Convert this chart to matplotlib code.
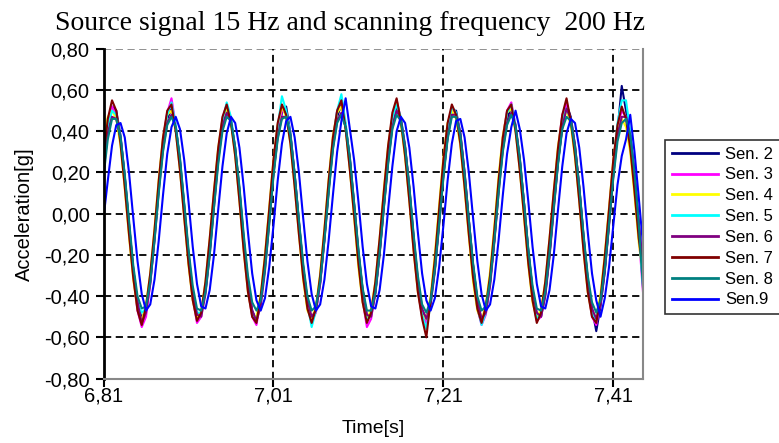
import matplotlib
matplotlib.use("Agg")
import matplotlib.pyplot as plt
import numpy as np

# 200 Hz samples starting at 6.81 s
T_START = 6.81
FS = 200

sen2 = [0.22, 0.40, 0.52, 0.50, 0.38, 0.18, -0.05, -0.27, -0.43, -0.51,
        -0.46, -0.32, -0.11, 0.13, 0.33, 0.46, 0.51, 0.42, 0.25, 0.03,
        -0.20, -0.38, -0.49, -0.48, -0.37, -0.18, 0.05, 0.27, 0.43, 0.50,
        0.45, 0.31, 0.11, -0.13, -0.34, -0.47, -0.52, -0.42, -0.25, -0.03,
        0.20, 0.38, 0.49, 0.52, 0.39, 0.19, -0.04, -0.26, -0.42, -0.53,
        -0.47, -0.33, -0.12, 0.12, 0.33, 0.47, 0.53, 0.43, 0.26, 0.04,
        -0.19, -0.37, -0.50, -0.49, -0.38, -0.19, 0.04, 0.26, 0.43, 0.52,
        0.46, 0.32, 0.12, -0.12, -0.33, -0.47, -0.51, -0.43, -0.27, -0.04,
        0.19, 0.37, 0.50, 0.50, 0.39, 0.20, -0.03, -0.25, -0.42, -0.52,
        -0.48, -0.33, -0.13, 0.12, 0.32, 0.46, 0.52, 0.42, 0.26, 0.05,
        -0.18, -0.37, -0.49, -0.50, -0.39, -0.20, 0.04, 0.25, 0.42, 0.53,
        0.47, 0.33, 0.13, -0.11, -0.32, -0.46, -0.57, -0.45, -0.28, -0.05,
        0.19, 0.40, 0.62, 0.50, 0.38, 0.18, -0.05, -0.27]
sen3 = [0.28, 0.45, 0.52, 0.48, 0.36, 0.15, -0.08, -0.30, -0.47, -0.55,
        -0.50, -0.34, -0.12, 0.14, 0.36, 0.49, 0.56, 0.43, 0.24, 0.01,
        -0.23, -0.41, -0.53, -0.50, -0.36, -0.15, 0.08, 0.30, 0.46, 0.53,
        0.46, 0.30, 0.09, -0.16, -0.37, -0.50, -0.54, -0.42, -0.23, 0.00,
        0.24, 0.41, 0.50, 0.49, 0.37, 0.16, -0.07, -0.29, -0.45, -0.52,
        -0.48, -0.34, -0.12, 0.14, 0.36, 0.50, 0.55, 0.42, 0.23, 0.02,
        -0.22, -0.42, -0.55, -0.51, -0.37, -0.16, 0.08, 0.31, 0.47, 0.55,
        0.46, 0.29, 0.09, -0.16, -0.37, -0.50, -0.53, -0.41, -0.24, -0.01,
        0.23, 0.42, 0.51, 0.48, 0.35, 0.15, -0.08, -0.30, -0.46, -0.54,
        -0.49, -0.34, -0.12, 0.14, 0.37, 0.50, 0.54, 0.43, 0.24, 0.02,
        -0.22, -0.41, -0.52, -0.50, -0.37, -0.16, 0.08, 0.31, 0.48, 0.53,
        0.45, 0.30, 0.09, -0.15, -0.36, -0.50, -0.54, -0.43, -0.24, 0.01,
        0.24, 0.42, 0.50, 0.47, 0.35, 0.16, -0.10, -0.38]
sen4 = [0.34, 0.47, 0.50, 0.46, 0.33, 0.12, -0.11, -0.32, -0.46, -0.52,
        -0.44, -0.29, -0.07, 0.17, 0.37, 0.48, 0.50, 0.40, 0.21, -0.02,
        -0.25, -0.42, -0.51, -0.47, -0.33, -0.12, 0.11, 0.32, 0.46, 0.51,
        0.44, 0.28, 0.06, -0.18, -0.38, -0.49, -0.50, -0.39, -0.20, 0.03,
        0.26, 0.43, 0.52, 0.47, 0.34, 0.13, -0.10, -0.32, -0.47, -0.51,
        -0.45, -0.29, -0.07, 0.17, 0.38, 0.49, 0.52, 0.41, 0.21, -0.02,
        -0.26, -0.43, -0.52, -0.46, -0.33, -0.12, 0.12, 0.33, 0.47, 0.55,
        0.44, 0.27, 0.06, -0.18, -0.38, -0.49, -0.51, -0.40, -0.20, 0.04,
        0.27, 0.44, 0.50, 0.46, 0.33, 0.12, -0.11, -0.33, -0.47, -0.52,
        -0.44, -0.28, -0.06, 0.18, 0.38, 0.49, 0.51, 0.40, 0.21, -0.02,
        -0.25, -0.43, -0.51, -0.46, -0.33, -0.12, 0.11, 0.33, 0.46, 0.50,
        0.43, 0.27, 0.06, -0.18, -0.38, -0.49, -0.50, -0.39, -0.20, 0.03,
        0.26, 0.42, 0.46, 0.42, 0.30, 0.09, -0.14, -0.30]
sen5 = [0.25, 0.42, 0.50, 0.48, 0.37, 0.17, -0.06, -0.28, -0.44, -0.48,
        -0.46, -0.33, -0.12, 0.12, 0.34, 0.48, 0.54, 0.43, 0.26, 0.04,
        -0.20, -0.39, -0.48, -0.48, -0.38, -0.18, 0.05, 0.28, 0.45, 0.54,
        0.47, 0.32, 0.11, -0.14, -0.35, -0.49, -0.52, -0.43, -0.26, -0.03,
        0.22, 0.42, 0.57, 0.50, 0.38, 0.18, -0.05, -0.27, -0.44, -0.55,
        -0.47, -0.33, -0.12, 0.13, 0.35, 0.50, 0.58, 0.44, 0.26, 0.04,
        -0.20, -0.39, -0.52, -0.49, -0.38, -0.18, 0.06, 0.29, 0.46, 0.53,
        0.47, 0.32, 0.12, -0.13, -0.35, -0.49, -0.56, -0.44, -0.27, -0.04,
        0.21, 0.40, 0.52, 0.49, 0.38, 0.18, -0.05, -0.27, -0.45, -0.54,
        -0.48, -0.33, -0.12, 0.13, 0.35, 0.49, 0.53, 0.43, 0.26, 0.04,
        -0.19, -0.38, -0.51, -0.49, -0.37, -0.18, 0.05, 0.28, 0.45, 0.51,
        0.46, 0.31, 0.11, -0.14, -0.35, -0.48, -0.52, -0.42, -0.26, -0.03,
        0.22, 0.44, 0.55, 0.55, 0.40, 0.18, -0.08, -0.35]
sen6 = [0.20, 0.39, 0.47, 0.46, 0.37, 0.18, -0.05, -0.27, -0.43, -0.53,
        -0.48, -0.34, -0.13, 0.11, 0.31, 0.44, 0.48, 0.42, 0.26, 0.04,
        -0.19, -0.38, -0.49, -0.50, -0.39, -0.20, 0.03, 0.26, 0.42, 0.49,
        0.45, 0.32, 0.12, -0.12, -0.33, -0.47, -0.52, -0.45, -0.28, -0.05,
        0.19, 0.37, 0.47, 0.47, 0.38, 0.19, -0.04, -0.26, -0.42, -0.50,
        -0.47, -0.34, -0.13, 0.11, 0.32, 0.45, 0.49, 0.42, 0.27, 0.05,
        -0.18, -0.37, -0.49, -0.50, -0.39, -0.20, 0.03, 0.25, 0.42, 0.50,
        0.46, 0.33, 0.13, -0.11, -0.32, -0.46, -0.51, -0.44, -0.28, -0.06,
        0.18, 0.37, 0.48, 0.48, 0.39, 0.20, -0.03, -0.25, -0.42, -0.51,
        -0.48, -0.35, -0.14, 0.10, 0.31, 0.44, 0.49, 0.43, 0.27, 0.05,
        -0.18, -0.37, -0.48, -0.50, -0.40, -0.21, 0.02, 0.25, 0.42, 0.51,
        0.46, 0.33, 0.13, -0.11, -0.32, -0.46, -0.51, -0.44, -0.28, -0.06,
        0.18, 0.38, 0.47, 0.47, 0.38, 0.20, -0.04, -0.26]
sen7 = [0.27, 0.46, 0.55, 0.50, 0.34, 0.13, -0.10, -0.31, -0.47, -0.54,
        -0.45, -0.29, -0.08, 0.16, 0.37, 0.50, 0.53, 0.40, 0.21, -0.02,
        -0.24, -0.42, -0.52, -0.48, -0.33, -0.12, 0.11, 0.32, 0.47, 0.53,
        0.44, 0.28, 0.06, -0.18, -0.38, -0.50, -0.53, -0.40, -0.21, 0.02,
        0.26, 0.44, 0.53, 0.48, 0.34, 0.13, -0.10, -0.31, -0.46, -0.53,
        -0.46, -0.30, -0.08, 0.16, 0.37, 0.50, 0.55, 0.41, 0.21, -0.01,
        -0.24, -0.43, -0.53, -0.48, -0.33, -0.12, 0.11, 0.33, 0.49, 0.56,
        0.45, 0.28, 0.06, -0.18, -0.38, -0.51, -0.60, -0.42, -0.22, 0.02,
        0.26, 0.44, 0.53, 0.48, 0.34, 0.13, -0.10, -0.31, -0.46, -0.53,
        -0.45, -0.30, -0.08, 0.16, 0.37, 0.50, 0.53, 0.40, 0.21, -0.01,
        -0.24, -0.42, -0.53, -0.48, -0.33, -0.12, 0.11, 0.32, 0.48, 0.56,
        0.45, 0.28, 0.06, -0.18, -0.38, -0.50, -0.53, -0.41, -0.21, 0.02,
        0.26, 0.43, 0.52, 0.46, 0.32, 0.11, -0.12, -0.28]
sen8 = [0.18, 0.36, 0.46, 0.46, 0.37, 0.19, -0.03, -0.25, -0.40, -0.46,
        -0.45, -0.33, -0.13, 0.10, 0.30, 0.43, 0.47, 0.42, 0.27, 0.05,
        -0.17, -0.35, -0.46, -0.47, -0.38, -0.20, 0.03, 0.24, 0.40, 0.47,
        0.45, 0.32, 0.13, -0.10, -0.30, -0.43, -0.47, -0.42, -0.27, -0.05,
        0.18, 0.36, 0.46, 0.47, 0.38, 0.19, -0.03, -0.24, -0.40, -0.47,
        -0.45, -0.33, -0.13, 0.10, 0.31, 0.44, 0.48, 0.42, 0.27, 0.05,
        -0.17, -0.36, -0.47, -0.47, -0.38, -0.19, 0.03, 0.24, 0.41, 0.48,
        0.45, 0.32, 0.13, -0.10, -0.30, -0.44, -0.48, -0.42, -0.27, -0.05,
        0.17, 0.36, 0.47, 0.47, 0.38, 0.19, -0.03, -0.24, -0.40, -0.47,
        -0.45, -0.33, -0.13, 0.10, 0.30, 0.43, 0.48, 0.42, 0.27, 0.05,
        -0.17, -0.35, -0.46, -0.47, -0.38, -0.19, 0.03, 0.24, 0.41, 0.47,
        0.45, 0.32, 0.13, -0.10, -0.30, -0.43, -0.48, -0.42, -0.27, -0.05,
        0.17, 0.35, 0.44, 0.46, 0.38, 0.20, -0.05, -0.36]
sen9 = [-0.02, 0.16, 0.33, 0.43, 0.44, 0.37, 0.20, -0.02, -0.23, -0.39,
        -0.47, -0.44, -0.32, -0.13, 0.09, 0.29, 0.42, 0.47, 0.41, 0.26,
        0.06, -0.16, -0.34, -0.45, -0.46, -0.37, -0.20, 0.02, 0.23, 0.39,
        0.47, 0.44, 0.32, 0.13, -0.09, -0.29, -0.42, -0.47, -0.41, -0.26,
        -0.06, 0.16, 0.34, 0.45, 0.47, 0.37, 0.20, -0.02, -0.23, -0.39,
        -0.47, -0.44, -0.32, -0.13, 0.09, 0.30, 0.45, 0.56, 0.41, 0.26,
        0.06, -0.16, -0.34, -0.45, -0.46, -0.37, -0.20, 0.02, 0.23, 0.40,
        0.47, 0.44, 0.32, 0.13, -0.09, -0.29, -0.42, -0.47, -0.41, -0.26,
        -0.06, 0.16, 0.34, 0.45, 0.46, 0.37, 0.20, -0.02, -0.23, -0.39,
        -0.47, -0.44, -0.32, -0.13, 0.09, 0.29, 0.42, 0.50, 0.41, 0.26,
        0.06, -0.16, -0.34, -0.45, -0.46, -0.37, -0.20, 0.02, 0.23, 0.39,
        0.46, 0.44, 0.32, 0.13, -0.09, -0.29, -0.42, -0.50, -0.41, -0.26,
        -0.06, 0.14, 0.28, 0.36, 0.48, 0.30, 0.08, -0.15]

SERIES = [sen2, sen3, sen4, sen5, sen6, sen7, sen8, sen9]
LABELS = ["Sen. 2", "Sen. 3", "Sen. 4", "Sen. 5", "Sen. 6", "Sen. 7", "Sen. 8", "Sen.9"]
COLORS = ["#000080", "#ff00ff", "#ffff00", "#00ffff",
          "#800080", "#800000", "#008080", "#0000ff"]

X_TICKS = [6.81, 7.01, 7.21, 7.41]
Y_TICKS = [-0.8, -0.6, -0.4, -0.2, 0.0, 0.2, 0.4, 0.6, 0.8]


def fmt_comma(v):
    return f"{v:.2f}".replace(".", ",")


def main():
    n = len(sen2)
    t = T_START + np.arange(n) / FS

    fig = plt.figure(figsize=(7.79, 4.43), dpi=100)
    ax = fig.add_axes([0.1329, 0.1454, 0.6925, 0.7444])

    # grid
    for yv in Y_TICKS[1:-1]:
        ax.axhline(yv, color="black", lw=1.3, ls=(0, (4, 2.5)), zorder=1)
    ax.axhline(0.8, color="#888888", lw=1.3, ls=(0, (4, 2.5)), zorder=1)
    for xv in X_TICKS[1:]:
        ax.axvline(xv, color="black", lw=1.3, ls=(0, (4, 2.5)), zorder=1)

    lines = []
    for y, lab, c in zip(SERIES, LABELS, COLORS):
        ln, = ax.plot(t, y, color=c, lw=1.5, label=lab, zorder=2)
        lines.append(ln)

    ax.set_xlim(T_START, t[-1])
    ax.set_ylim(-0.8, 0.8)
    ax.set_xticks(X_TICKS)
    ax.set_xticklabels([fmt_comma(v) for v in X_TICKS])
    ax.set_yticks(Y_TICKS)
    ax.set_yticklabels([fmt_comma(v) for v in Y_TICKS])

    ax.spines["top"].set_visible(False)
    ax.spines["left"].set_color("black")
    ax.spines["left"].set_linewidth(2)
    ax.spines["bottom"].set_color("#888888")
    ax.spines["bottom"].set_linewidth(1.5)
    ax.spines["right"].set_color("#888888")
    ax.spines["right"].set_linewidth(1.5)

    ax.tick_params(axis="y", direction="out", length=6, width=1.5, color="black",
                   labelsize=14.5, pad=4)
    ax.tick_params(axis="x", direction="out", length=6, width=1.5, color="black",
                   labelsize=14.5, pad=0)
    for lbl in ax.get_xticklabels() + ax.get_yticklabels():
        lbl.set_family("Liberation Sans")

    ax.set_xlabel("Time[s]", family="Liberation Sans", fontsize=14, labelpad=10)
    ax.set_ylabel("Acceleration[g]", family="Liberation Sans", fontsize=14.5, labelpad=7)

    fig.text(0.449, 0.948, "Source signal 15 Hz and scanning frequency  200 Hz",
             family="Liberation Serif", fontsize=20, ha="center", va="center")

    leg = fig.legend(lines, LABELS, loc="upper left",
                     bbox_to_anchor=(665 / 779, 1 - 140 / 443),
                     prop={"family": "Liberation Sans", "size": 12},
                     frameon=True, fancybox=False, handlelength=2.8,
                     handletextpad=0.4, labelspacing=0.35, borderpad=0.4,
                     borderaxespad=0)
    leg.get_frame().set_edgecolor("black")
    leg.get_frame().set_linewidth(1.2)
    for h in leg.legend_handles:
        h.set_linewidth(2)

    fig.savefig("out.png", dpi=100)
    plt.close(fig)


if __name__ == "__main__":
    main()
